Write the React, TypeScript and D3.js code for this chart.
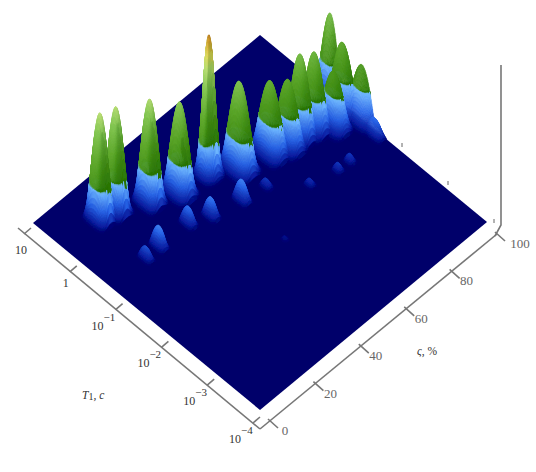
import React, { useEffect, useRef } from "react";
import * as d3 from "d3";

// ridge centres: c in %, log10(T1), height (0..1 of z axis), ridge half-length, cross width, taper
const peakC = [16, 21.6, 31.5, 40.5, 51.7, 60, 71, 76.6, 82, 87, 100, 98, 92, 100, 98.5, 15.4, 21.5, 34, 41, 52, 61, 71, 81, 86, 51];
const peakLogT = [0.32, 0.25, 0, -0.21, -0.29, -0.55, -0.68, -0.79, -0.79, -0.85, -0.55, -0.92, -1.03, -1.25, -1.6, -0.72, -0.7, -0.72, -0.87, -1.0, -1.09, -1.55, -1.67, -1.68, -2.0];
const peakZ = [0.62, 0.61, 0.6, 0.53, 0.82, 0.51, 0.42, 0.39, 0.48, 0.45, 0.47, 0.4, 0.32, 0.32, 0.1, 0.07, 0.12, 0.1, 0.11, 0.12, 0.045, 0.035, 0.045, 0.045, 0.014];
const peakSigmaC = [1.4, 1.4, 1.5, 1.6, 1.5, 1.7, 1.7, 1.6, 1.6, 1.6, 1.5, 1.5, 1.6, 1.6, 0.9, 0.8, 0.9, 0.9, 0.9, 0.9, 0.8, 0.8, 0.8, 0.8, 0.6];
const peakHalfT = [0.25, 0.25, 0.26, 0.28, 0.26, 0.32, 0.32, 0.3, 0.28, 0.28, 0.25, 0.3, 0.3, 0.3, 0.2, 0.15, 0.17, 0.16, 0.16, 0.17, 0.12, 0.1, 0.1, 0.1, 0.07];
const peakPower = [1.25, 1.25, 1.25, 1.25, 3, 1.2, 1.2, 1.2, 1.2, 1.2, 1.2, 1.2, 1.2, 1.2, 1, 1, 1, 1, 1, 1, 1, 1, 1, 1, 1];

const cTicks = [0, 20, 40, 60, 80, 100];
const tTicks = [1, 0, -1, -2, -3, -4];
const THRESHOLD = 0.19;
const zStops = [0, 0.02, 0.09, 0.1899, THRESHOLD, 0.34, 0.5, 0.62, 0.7, 0.78, 0.84];
const zColors = ["#00006a", "#0a1ea0", "#2a66e8", "#74bcff", "#2f7d08", "#4d9a1e", "#7cc04e", "#bfe07a", "#f2dc62", "#e0a030", "#a86a20"];

const cX = d3.scaleLinear().domain([0, 100]).range([0, 227]);
const cY = d3.scaleLinear().domain([0, 100]).range([0, -188]);
const tX = d3.scaleLinear().domain([-4, 1]).range([0, -227]);
const tY = d3.scaleLinear().domain([-4, 1]).range([0, -187]);
const zY = d3.scaleLinear().domain([0, 1]).range([0, -170]);
const colorScale = d3.scaleLinear<string>().domain(zStops).range(zColors).interpolate(d3.interpolateRgb).clamp(true);

const axisTX = d3.scaleLinear().domain([-4, 1]).range([253, 24]);
const axisTY = d3.scaleLinear().domain([-4, 1]).range([423, 234]);
const axisCX = d3.scaleLinear().domain([0, 100]).range([268, 495]);
const axisCY = d3.scaleLinear().domain([0, 100]).range([419, 232]);

const px = (c: number, t: number) => 260 + cX(c) + tX(t);
const py = (c: number, t: number, z: number) => 410 + cY(c) + tY(t) + zY(z);

function height(c: number, t: number) {
  let z = 0;
  for (let i = 0; i < peakC.length; i++) {
    const r = (t - peakLogT[i]) / peakHalfT[i];
    if (Math.abs(r) >= 1) continue;
    const a = (c - peakC[i]) / peakSigmaC[i];
    if (a * a > 30) continue;
    z = Math.max(z, peakZ[i] * Math.pow(1 - r * r, peakPower[i]) * Math.exp(-(a * a) / 2));
  }
  return z;
}

type Quad = { k: number; d: string; f: string };

function emit(quads: Quad[], c0: number, c1: number, t0: number, t1: number, depth: number) {
  const z00 = height(c0, t0), z10 = height(c1, t0), z11 = height(c1, t1), z01 = height(c0, t1);
  const lo = Math.min(z00, z10, z11, z01), hi = Math.max(z00, z10, z11, z01);
  if (hi < 0.003) return;
  if (depth > 0 && ((lo < THRESHOLD && hi >= THRESHOLD) || hi - lo > 0.05)) {
    const parts = 3;
    const w = (c1 - c0) / parts;
    for (let p = 0; p < parts; p++) emit(quads, c0 + p * w, c0 + (p + 1) * w, t0, t1, depth - 1);
    return;
  }
  const zm = height((c0 + c1) / 2, (t0 + t1) / 2);
  const d = `M${px(c0, t0).toFixed(2)},${py(c0, t0, z00).toFixed(2)}L${px(c1, t0).toFixed(2)},${py(c1, t0, z10).toFixed(2)}L${px(c1, t1).toFixed(2)},${py(c1, t1, z11).toFixed(2)}L${px(c0, t1).toFixed(2)},${py(c0, t1, z01).toFixed(2)}Z`;
  // light from the left: brighter on faces turned to the left of the picture
  const slope = ((z10 - z01) / (c1 - c0)) * 0.2 / 0.04;
  const lit = Math.tanh(slope * 0.9);
  const base = colorScale(zm);
  const f = zm > THRESHOLD
    ? d3.interpolateRgb(base, lit > 0 ? "#9ad860" : "#1c5a00")(Math.abs(lit) * 0.28)
    : base;
  quads.push({ k: (c0 + c1) / 200 + (t0 + 4) / 5, d, f });
}

function Surface() {
  const ref = useRef<SVGGElement>(null);
  useEffect(() => {
    const dc = 0.2, dt = 0.015;
    const nc = Math.round(100 / dc), nt = Math.round(5 / dt);
    const quads: Quad[] = [];
    for (let i = 0; i < nc; i++) {
      for (let j = 0; j < nt; j++) {
        emit(quads, i * dc, (i + 1) * dc, -4 + j * dt, -4 + (j + 1) * dt, 2);
      }
    }
    quads.sort((a, b) => b.k - a.k);
    d3.select(ref.current)
      .selectAll("path")
      .data(quads)
      .join("path")
      .attr("d", (q) => q.d)
      .attr("fill", (q) => q.f)
      .attr("stroke", (q) => q.f)
      .attr("stroke-width", 0.4);
  }, []);
  return <g ref={ref} />;
}

export default function App() {
  const corners: [number, number][] = [[0, -4], [100, -4], [100, 1], [0, 1]];
  const plane = corners.map(([c, t]) => `${px(c, t)},${py(c, t, 0)}`).join(" ");
  const axisColor = "#777";
  const serif = "'Liberation Serif', serif";
  return (
    <svg width={536} height={472} style={{ position: "absolute", left: 0, top: 0, background: "#fff" }} fontFamily={serif}>
      <defs>
        <filter id="soft" x="-5%" y="-5%" width="110%" height="110%">
          <feGaussianBlur stdDeviation="0.6" />
        </filter>
      </defs>
      <g filter="url(#soft)">
        <polygon points={plane} fill="#00006a" />
        <Surface />
      </g>
      <g stroke={axisColor} strokeWidth={1.6} fill="none">
        <line x1={18} y1={228} x2={260} y2={429} />
        <line x1={260} y1={429} x2={497} y2={234} />
        <polyline points="501,65 501,225 495,236" />
        {tTicks.map((t) => (
          <line key={t} x1={axisTX(t)} y1={axisTY(t)} x2={axisTX(t) + 7} y2={axisTY(t) - 6} />
        ))}
        {cTicks.map((c) => (
          <line key={c} x1={axisCX(c)} y1={axisCY(c)} x2={axisCX(c) + 10} y2={axisCY(c) + 9} />
        ))}
      </g>
      <g stroke="#666" strokeWidth={1}>
        <line x1={402} y1={143} x2={402} y2={147} />
        <line x1={448} y1={181} x2={448} y2={185} />
        <line x1={494} y1={219} x2={494} y2={223} />
      </g>
      <g fontSize={13} fill="#666" textAnchor="middle">
        {cTicks.map((c) => (
          <text key={c} x={axisCX(c) + 17 + (c === 100 ? 8 : 0)} y={axisCY(c) + 16}>{c}</text>
        ))}
      </g>
      <g fontSize={12} fill="#333">
        {tTicks.map((t) => {
          const x = axisTX(t) - 24, y = axisTY(t) + 20;
          if (t === 0) return <text key={t} x={x + 17} y={y - 5}>1</text>;
          if (t === 1) return <text key={t} x={x + 15} y={y}>10</text>;
          return (
            <g key={t}>
              <text x={x} y={y}>10</text>
              <text x={x + 12} y={y - 9} fontSize={11}>{"\u2212" + Math.abs(t)}</text>
            </g>
          );
        })}
      </g>
      <text x={82} y={399} fontSize={11.5} fontStyle="italic" fill="#333">
        T<tspan fontStyle="normal" fontSize={10} dy={1}>1</tspan><tspan dy={-1}>, c</tspan>
      </text>
      <text x={417} y={355} fontSize={11.5} fill="#333">
        <tspan fontStyle="italic">ς</tspan>, %
      </text>
    </svg>
  );
}
